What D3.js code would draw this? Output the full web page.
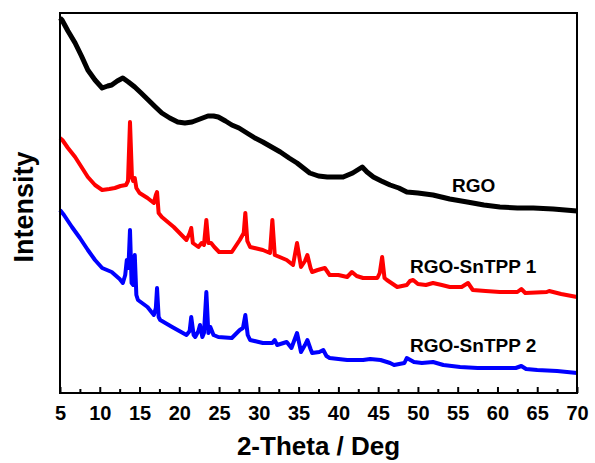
<!DOCTYPE html>
<html>
<head>
<meta charset="utf-8">
<script src="https://cdn.jsdelivr.net/npm/d3@7"></script>
<style>
  body { margin:0; background:#fff; }
  svg text { font-family: Arial, "Liberation Sans", sans-serif; font-weight:bold; }
</style>
</head>
<body>
<div id="chart"></div>
<script>
// 2-theta (deg) and intensity (a.u., curves already offset)
var rgo = [
  [5.0,375],[5.25,373],[6.0,362],[6.9,350],[7.7,337],[8.5,323],[9.4,313],[10.3,305],
  [11.0,307],[11.5,308],[12.2,312],[12.9,315],[13.6,311],[14.4,306],[15.2,300],[16.1,293],
  [17.0,286],[17.8,280],[18.8,275],[19.8,271],[20.7,270],[21.6,271],[22.6,274],[23.6,277],
  [24.3,277],[24.9,276],[25.8,272],[26.6,268],[27.5,265],[28.5,260],[29.5,255],[30.5,251],
  [31.6,246],[32.7,241],[33.8,235],[34.8,230],[35.6,225],[36.4,220],[37.5,217],[38.6,216],
  [39.6,216],[40.6,216],[41.2,218],[41.8,220],[42.4,223],[43.0,226],[43.6,221],[44.4,216],
  [45.4,212],[46.5,208],[47.6,205],[48.6,201],[50.0,200],[51.9,198],[54.0,194],[56.2,191],
  [58.3,188],[60.3,186],[62.5,185],[64.5,185],[67.0,184],[70.0,182]
]
var sntpp1 = [
  [5.0,255],[5.3,253],[6.0,245],[6.9,236],[7.7,226],[8.5,216],[9.4,208],[10.3,203],
  [11.2,204],[11.9,205],[12.6,207],[13.3,208],[13.55,212],[13.8,271],[14.05,215],[14.2,212],
  [14.4,215],[14.6,205],[15.0,200],[16.0,195],[16.8,190],[17.05,198],[17.2,201],[17.4,180],
  [17.8,176],[19.3,166],[20.9,153],[21.3,160],[21.5,165],[21.7,150],[22.4,146],[22.8,150],
  [23.1,148],[23.4,173],[23.65,150],[24.0,150],[24.4,146],[25.0,141],[26.6,141],[27.6,153],
  [28.1,160],[28.3,180],[28.55,152],[28.9,146],[30.5,143],[31.4,140],[31.7,173],[32.0,138],
  [33.5,133],[34.3,128],[34.8,150],[35.3,126],[35.8,132],[36.1,138],[36.5,125],[36.7,121],
  [37.4,123],[38.3,125],[38.9,118],[40.0,118],[41.1,116],[41.7,121],[42.3,117],[43.1,115],
  [44.9,115],[45.2,120],[45.5,136],[45.8,115],[46.1,113],[47.4,106],[48.6,108],[49.0,112],
  [49.4,113],[50.0,109],[51.0,108],[51.9,110],[53.0,108],[54.0,106],[55.5,106],[56.3,110],
  [56.9,103],[58.5,102],[60.3,101],[61.5,101],[62.5,101],[63.0,104],[63.5,100],[66.2,101],
  [66.5,102],[68.0,99],[70.0,96]
]
var sntpp2 = [
  [5.0,183],[5.5,178],[6.5,166],[7.5,155],[8.5,143],[9.4,133],[10.3,125],[11.5,121],
  [12.5,114],[12.9,110],[13.2,118],[13.4,133],[13.6,125],[13.8,163],[14.0,110],[14.2,108],
  [14.4,138],[14.6,98],[14.8,93],[16.0,86],[16.8,78],[17.05,85],[17.2,105],[17.4,76],
  [17.6,73],[19.1,66],[20.9,58],[21.3,62],[21.5,76],[21.8,58],[22.0,56],[22.4,62],
  [22.6,68],[22.9,56],[23.1,60],[23.4,101],[23.65,60],[23.9,66],[24.3,58],[24.9,56],
  [26.6,55],[27.6,63],[28.0,65],[28.3,78],[28.6,58],[28.9,53],[30.5,50],[31.7,50],
  [32.0,53],[32.3,48],[33.5,51],[34.1,45],[34.8,60],[35.3,41],[35.8,48],[36.1,53],
  [36.5,44],[36.7,40],[37.6,41],[38.1,43],[38.5,37],[38.9,35],[41.1,33],[43.1,33],
  [44.0,34],[45.3,33],[46.5,30],[47.0,28],[48.3,30],[48.6,35],[49.5,31],[50.5,30],
  [51.9,31],[53.2,28],[55.3,26],[57.5,25],[60.0,25],[62.3,25],[63.0,27],[63.6,24],
  [65.0,23],[67.5,22],[70.0,20]
]
var seriesNames = ['RGO','RGO-SnTPP 1','RGO-SnTPP 2']
var seriesColors = ['#000000','#ff0000','#0000ff']
var xTicks = [5,10,15,20,25,30,35,40,45,50,55,60,65,70]

var W = 595, H = 463
var m = {left:60, top:13, right:18, bottom:70}
var svg = d3.select('#chart').append('svg').attr('width',W).attr('height',H)

var x = d3.scaleLinear().domain([5,70]).range([m.left, W-m.right])
var y = d3.scaleLinear().domain([0,380]).range([H-m.bottom, m.top])

//the curves
var line = d3.line().x(function(d){return x(d[0])}).y(function(d){return y(d[1])})
var data = [rgo, sntpp1, sntpp2]
var widths = [5, 4, 4]
svg.append('g').selectAll('path').data(data).enter().append('path')
  .attr('d', line)
  .attr('fill','none')
  .attr('stroke', function(d,i){return seriesColors[i]})
  .attr('stroke-width', function(d,i){return widths[i]})
  .attr('stroke-linejoin','round')

//frame
svg.append('rect')
  .attr('x',x(5)).attr('y',y(380))
  .attr('width',x(70)-x(5)).attr('height',y(0)-y(380))
  .attr('fill','none').attr('stroke','#000').attr('stroke-width',2)

//x axis, ticks pointing in
var xAxis = svg.append('g').attr('transform','translate(0,'+y(0)+')')
  .call(d3.axisBottom(x).tickValues(xTicks).tickSize(-6).tickPadding(13).tickFormat(d3.format('d')))
xAxis.select('.domain').remove()
xAxis.selectAll('line').attr('stroke-width',2)
xAxis.selectAll('text').attr('font-size',20).attr('fill','#000')
  .style('font-family','Arial, "Liberation Sans", sans-serif').style('font-weight','bold')
var minor = svg.append('g').attr('transform','translate(0,'+y(0)+')')
  .call(d3.axisBottom(x).tickValues(d3.range(7.5,70,5)).tickSize(-4).tickFormat(''))
minor.select('.domain').remove()
minor.selectAll('line').attr('stroke-width',2)

//axis titles
svg.append('text').attr('x',(x(5)+x(70))/2).attr('y',455)
  .attr('text-anchor','middle').attr('font-size',26).text('2-Theta / Deg')
svg.append('text').attr('transform','translate(33,'+(y(186))+') rotate(-90)')
  .attr('text-anchor','middle').attr('font-size',27).text('Intensity')

//curve labels
var labelPos = [[452,192],[410,273],[410,352]]
svg.selectAll('.lbl').data(seriesNames).enter().append('text')
  .attr('class','lbl')
  .attr('x',function(d,i){return labelPos[i][0]})
  .attr('y',function(d,i){return labelPos[i][1]})
  .attr('font-size',19).text(function(d){return d})
</script>
</body>
</html>
